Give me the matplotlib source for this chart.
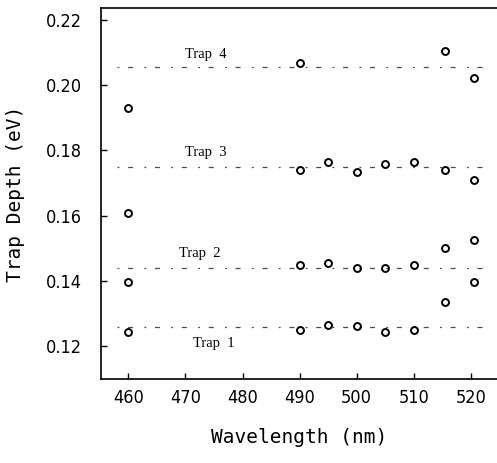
import matplotlib
matplotlib.use("Agg")
import matplotlib.pyplot as plt

# wavelengths (nm) at which trap depths were measured
wl = [460, 490, 495, 500, 505, 510, 515.5, 520.5]

# trap depths (eV); None = no point
trap4 = [0.1930, 0.2068, None, None, None, None, 0.2106, 0.2022]
trap3 = [0.1608, 0.1740, 0.1765, 0.1735, 0.1758, 0.1765, 0.1740, 0.1709]
trap2 = [0.1396, 0.1449, 0.1455, 0.1439, 0.1439, 0.1449, 0.1500, 0.1525]
trap1 = [0.1243, 0.1249, 0.1264, 0.1261, 0.1244, 0.1249, 0.1336, 0.1396]

# mean level of each trap (dashed guide lines)
trap_names = ["Trap 4", "Trap 3", "Trap 2", "Trap 1"]
trap_levels = [0.2055, 0.1749, 0.1439, 0.1258]
label_x = [473.5, 473.5, 472.5, 475.0]
label_y = [0.2093, 0.1795, 0.1485, 0.1209]

xticks = [460, 470, 480, 490, 500, 510, 520]
yticks = [0.12, 0.14, 0.16, 0.18, 0.20, 0.22]

fig = plt.figure(figsize=(4.97, 4.63), dpi=100)
ax = fig.add_axes([101 / 497, 1 - 379 / 463, 396 / 497, 371 / 463])

for series in (trap4, trap3, trap2, trap1):
    xs = [x for x, v in zip(wl, series) if v is not None]
    ys = [v for v in series if v is not None]
    ax.plot(xs, ys, linestyle="none", marker="o", markersize=5,
            markerfacecolor="white", markeredgecolor="black",
            markeredgewidth=1.4)

for lvl in trap_levels:
    ax.axhline(lvl, xmin=0.04, xmax=0.99, color="black", lw=0.9,
               linestyle=(0, (1.5, 7, 4, 9)), alpha=0.7)

for name, tx, ty in zip(trap_names, label_x, label_y):
    ax.text(tx, ty, name.replace(" ", "  "), ha="center", va="center",
            fontsize=10.5, family="Liberation Serif")

ax.set_xlim(455.2, 524.6)
ax.set_ylim(0.1099, 0.2237)
ax.set_xticks(xticks)
ax.set_yticks(yticks)
ax.set_yticklabels([f"{v:.2f}" for v in yticks])

ax.spines["right"].set_visible(False)
for s in ("left", "bottom", "top"):
    ax.spines[s].set_linewidth(1.2)

ax.tick_params(direction="in", length=4, width=1.0, top=False, right=False)
ax.tick_params(axis="y", pad=14)
ax.tick_params(axis="x", pad=7)
for lab in ax.get_xticklabels() + ax.get_yticklabels():
    lab.set_family("DejaVu Sans")
    lab.set_fontstretch("condensed")
    lab.set_fontsize(13)

ax.set_xlabel("Wavelength (nm)", family="DejaVu Sans Mono", fontsize=14,
              labelpad=15)
ax.set_ylabel("Trap Depth (eV)", family="DejaVu Sans Mono", fontsize=14,
              labelpad=15)

fig.savefig("out.png", dpi=100)
